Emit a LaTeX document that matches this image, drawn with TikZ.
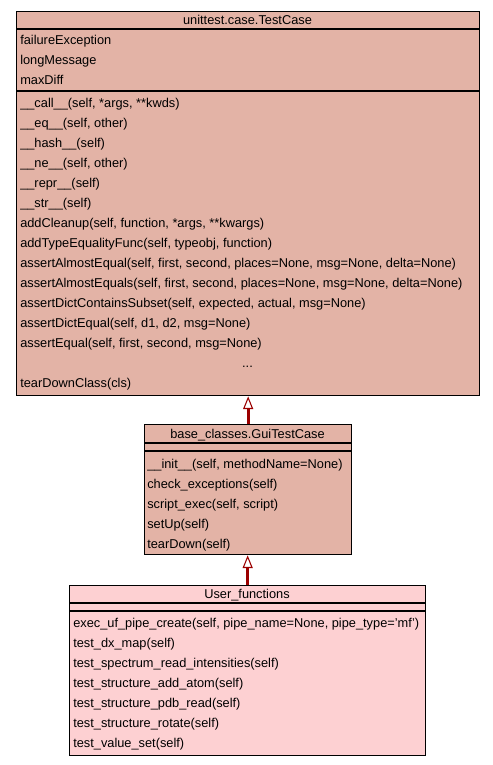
\documentclass[tikz,border=0pt]{standalone}
\usepackage{fontspec}
\setmainfont{Liberation Sans}
\usetikzlibrary{arrows.meta}
\definecolor{basefill}{RGB}{227,179,166}
\definecolor{userfill}{RGB}{253,208,210}
\definecolor{inhred}{RGB}{155,0,0}
\newcommand{\umlfont}{\fontsize{9.6pt}{11pt}\selectfont}
\tikzset{
  clsbox/.style={draw=black, line width=1pt, fill=#1, inner sep=0pt, anchor=north west},
  sepline/.style={draw=black, line width=1.1pt},
  mtxt/.style={anchor=base west, inner sep=0pt, font=\umlfont},
  ttxt/.style={anchor=base, inner sep=0pt, font=\umlfont},
  inh/.style={draw=inhred, line width=2.2pt,
    -{Triangle[open, width=7.5pt, length=9.5pt, line width=0.8pt 0, fill=white]}}
}
\begin{document}
\begin{tikzpicture}[x=0.75pt,y=-0.75pt]
\useasboundingbox (0,0) rectangle (493,765);
% ---------- unittest.case.TestCase ----------
\node[clsbox=basefill, minimum width=347.25pt, minimum height=288pt] (top) at (16,11) {};
\draw[sepline] (16,29) -- (479,29);
\draw[sepline] (16,91) -- (479,91);
\node[ttxt] (t0) at (247.5,24) {unittest.case.TestCase};
\node[mtxt] (ta1) at (20,44) {failureException};
\node[mtxt] (ta2) at (20,64) {longMessage};
\node[mtxt] (ta3) at (20,84) {maxDiff};
\node[mtxt] (tm1) at (20,107) {\_\_call\_\_(self, *args, **kwds)};
\node[mtxt] (tm2) at (20,127) {\_\_eq\_\_(self, other)};
\node[mtxt] (tm3) at (20,147) {\_\_hash\_\_(self)};
\node[mtxt] (tm4) at (20,167) {\_\_ne\_\_(self, other)};
\node[mtxt] (tm5) at (20,187) {\_\_repr\_\_(self)};
\node[mtxt] (tm6) at (20,207) {\_\_str\_\_(self)};
\node[mtxt] (tm7) at (20,227) {addCleanup(self, function, *args, **kwargs)};
\node[mtxt] (tm8) at (20,247) {addTypeEqualityFunc(self, typeobj, function)};
\node[mtxt] (tm9) at (20,267) {assertAlmostEqual(self, first, second, places=None, msg=None, delta=None)};
\node[mtxt] (tm10) at (20,287) {assertAlmostEquals(self, first, second, places=None, msg=None, delta=None)};
\node[mtxt] (tm11) at (20,307) {assertDictContainsSubset(self, expected, actual, msg=None)};
\node[mtxt] (tm12) at (20,327) {assertDictEqual(self, d1, d2, msg=None)};
\node[mtxt] (tm13) at (20,347) {assertEqual(self, first, second, msg=None)};
\node[ttxt] (tm14) at (247.5,367) {...};
\node[mtxt] (tm15) at (20,387) {tearDownClass(cls)};
% ---------- base_classes.GuiTestCase ----------
\node[clsbox=basefill, minimum width=155.25pt, minimum height=97.5pt] (mid) at (144,424) {};
\draw[sepline] (144,443) -- (351,443);
\draw[sepline] (144,451) -- (351,451);
\node[ttxt] (m0) at (247.5,438) {base\_classes.GuiTestCase};
\node[mtxt] (mm1) at (147,468) {\_\_init\_\_(self, methodName=None)};
\node[mtxt] (mm2) at (147,488) {check\_exceptions(self)};
\node[mtxt] (mm3) at (147,508) {script\_exec(self, script)};
\node[mtxt] (mm4) at (147,528) {setUp(self)};
\node[mtxt] (mm5) at (147,548) {tearDown(self)};
% ---------- User_functions ----------
\node[clsbox=userfill, minimum width=267pt, minimum height=127.5pt] (usr) at (69,585) {};
\draw[sepline] (69,603) -- (425,603);
\draw[sepline] (69,611) -- (425,611);
\node[ttxt] (u0) at (247,598) {User\_functions};
\node[mtxt] (um1) at (73,627) {exec\_uf\_pipe\_create(self, pipe\_name=None, pipe\_type='mf')};
\node[mtxt] (um2) at (73,647) {test\_dx\_map(self)};
\node[mtxt] (um3) at (73,667) {test\_spectrum\_read\_intensities(self)};
\node[mtxt] (um4) at (73,687) {test\_structure\_add\_atom(self)};
\node[mtxt] (um5) at (73,707) {test\_structure\_pdb\_read(self)};
\node[mtxt] (um6) at (73,727) {test\_structure\_rotate(self)};
\node[mtxt] (um7) at (73,747) {test\_value\_set(self)};
% ---------- inheritance ----------
\draw[inh] (mid.north) -- (top.south);
\draw[inh] (usr.north) -- (usr.north |- mid.south);
\end{tikzpicture}
\end{document}
